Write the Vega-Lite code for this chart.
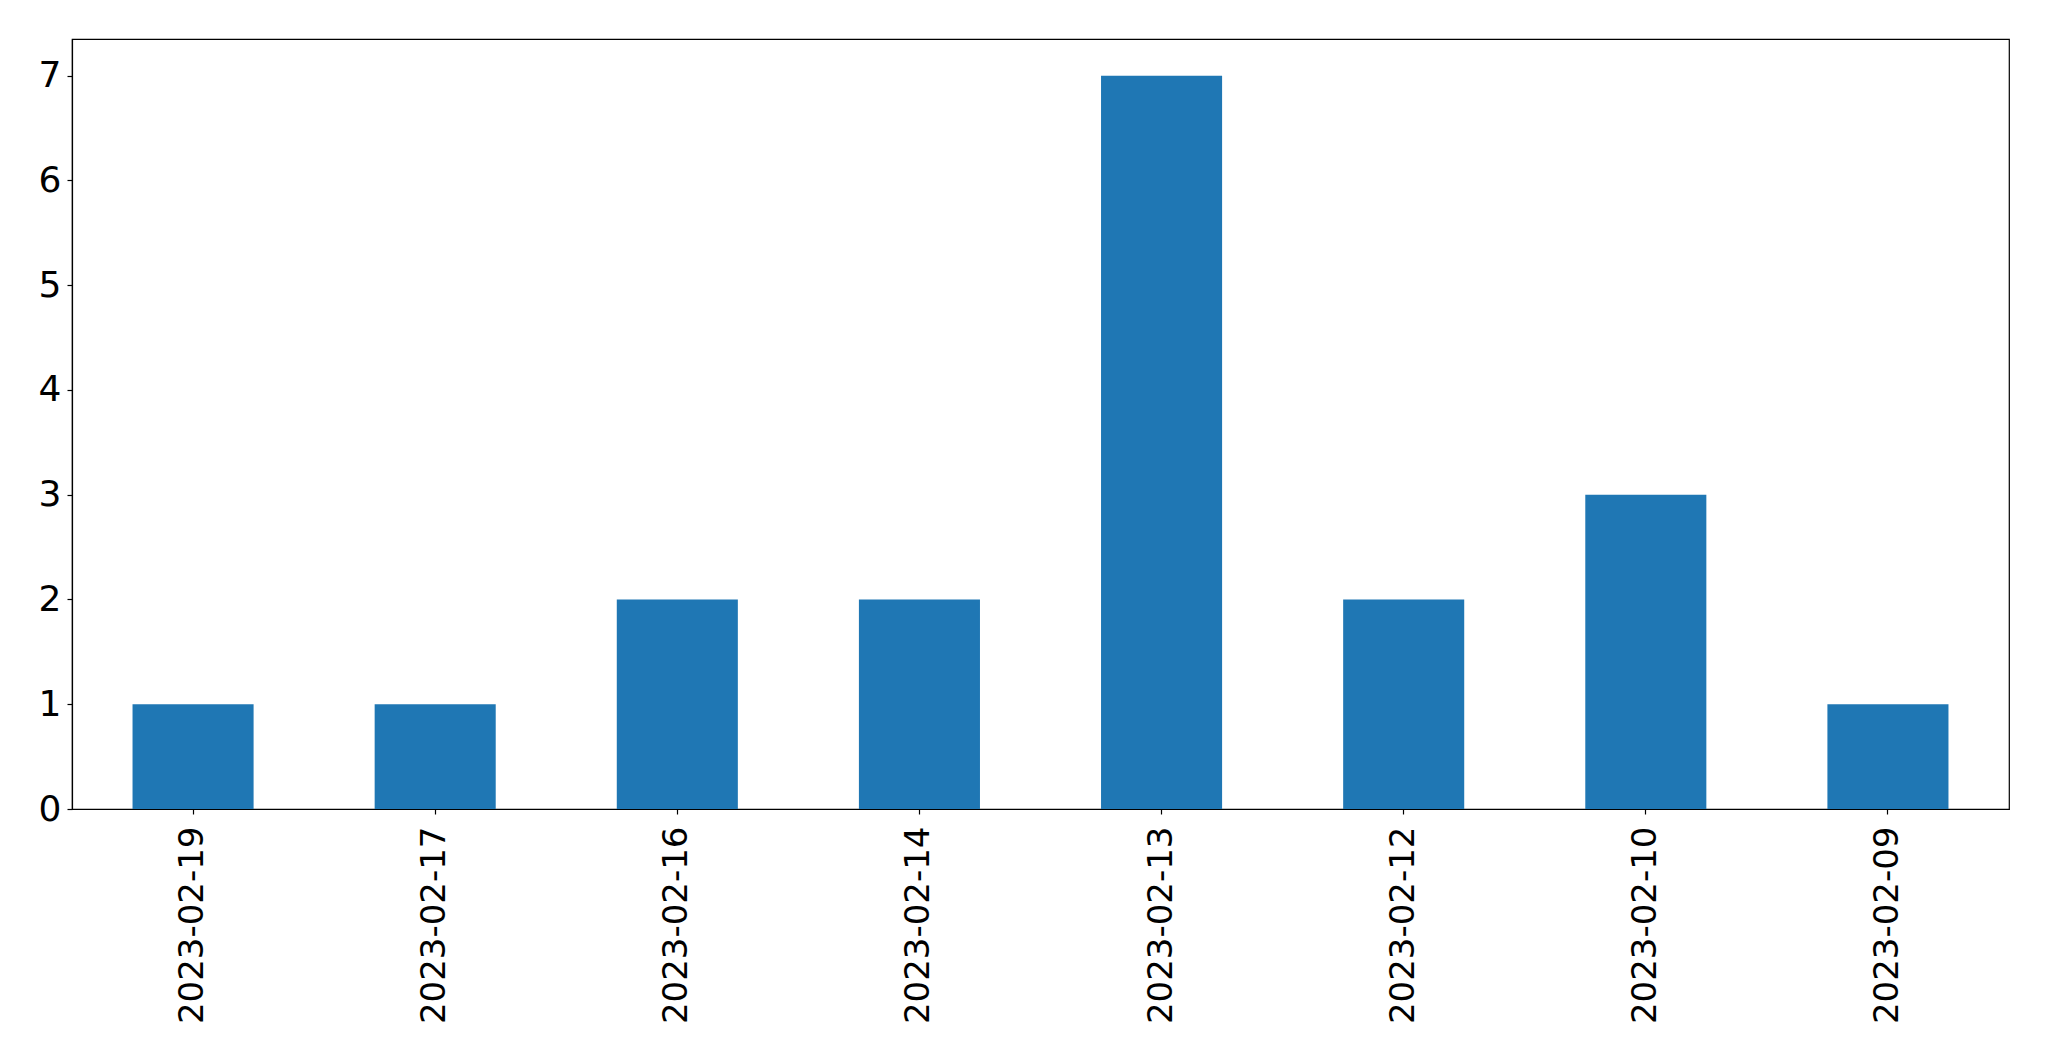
{
  "$schema": "https://vega.github.io/schema/vega-lite/v6.json",
  "autosize": {"type": "none"},
  "padding": {"left": 72, "top": 39, "right": 40, "bottom": 252},
  "width": 1937,
  "height": 770,
  "background": "white",
  "config": {
    "view": {"stroke": "black", "strokeWidth": 1.2},
    "font": "DejaVu Sans",
    "axis": {
      "grid": false,
      "domainColor": "black",
      "domainWidth": 1.2,
      "tickColor": "black",
      "tickWidth": 1.2,
      "tickSize": 5,
      "labelFont": "DejaVu Sans",
      "labelFontSize": 34,
      "labelColor": "black",
      "labelLimit": 0,
      "title": null
    }
  },
  "data": {
    "values": [
      {"date": "2023-02-19", "count": 1},
      {"date": "2023-02-17", "count": 1},
      {"date": "2023-02-16", "count": 2},
      {"date": "2023-02-14", "count": 2},
      {"date": "2023-02-13", "count": 7},
      {"date": "2023-02-12", "count": 2},
      {"date": "2023-02-10", "count": 3},
      {"date": "2023-02-09", "count": 1}
    ]
  },
  "mark": {"type": "bar", "color": "#1f77b4"},
  "encoding": {
    "x": {
      "field": "date",
      "type": "nominal",
      "sort": null,
      "scale": {"paddingInner": 0.5, "paddingOuter": 0.25},
      "axis": {"labelAngle": 270, "labelPadding": 12, "labelLimit": 0, "title": null}
    },
    "y": {
      "field": "count",
      "type": "quantitative",
      "scale": {"domain": [0, 7.35], "nice": false, "zero": true},
      "axis": {"values": [0, 1, 2, 3, 4, 5, 6, 7], "labelPadding": 6, "labelFontSize": 36, "title": null}
    }
  }
}
